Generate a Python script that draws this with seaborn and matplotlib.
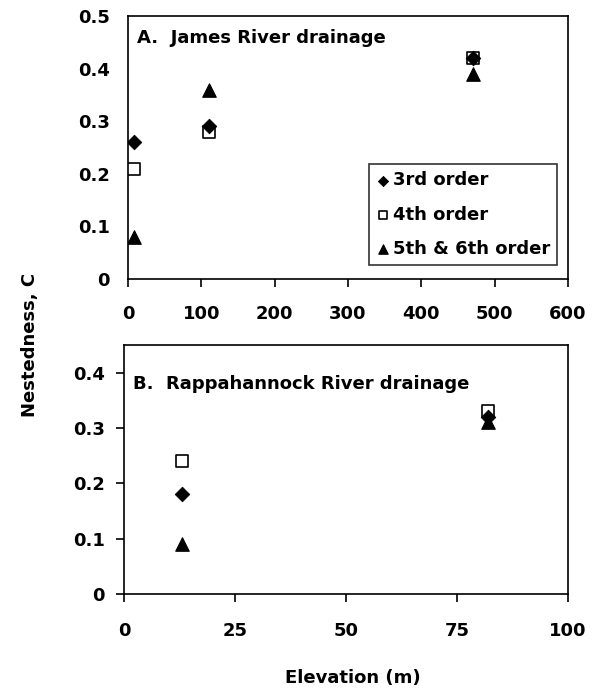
import pandas as pd
import matplotlib.pyplot as plt
import seaborn as sns

# Dados
ordens = ['3rd order', '4th order', '5th & 6th order']

james_elev = [8, 110, 470]
james_3rd = [0.26, 0.29, 0.42]
james_4th = [0.21, 0.28, 0.42]
james_5th = [0.08, 0.36, 0.39]

rapp_elev = [13, 82]
rapp_3rd = [0.18, 0.32]
rapp_4th = [0.24, 0.33]
rapp_5th = [0.09, 0.31]


def monta_df(elev, s3, s4, s5):
    linhas = []
    for nome, vals in zip(ordens, [s3, s4, s5]):
        for e, v in zip(elev, vals):
            linhas.append({'elev': e, 'C': v, 'ordem': nome})
    return pd.DataFrame(linhas)


james = monta_df(james_elev, james_3rd, james_4th, james_5th)
rapp = monta_df(rapp_elev, rapp_3rd, rapp_4th, rapp_5th)

sns.set_style('white', {'xtick.bottom': True, 'ytick.left': True})
plt.rcParams['font.family'] = ['DejaVu Sans']
plt.rcParams['font.weight'] = 'bold'
plt.rcParams['text.color'] = 'black'
plt.rcParams['xtick.color'] = 'black'
plt.rcParams['ytick.color'] = 'black'
plt.rcParams['xtick.major.size'] = 6
plt.rcParams['ytick.major.size'] = 6

marcadores = {'3rd order': 'D', '4th order': 's', '5th & 6th order': '^'}
tamanhos = {'3rd order': 55, '4th order': 70, '5th & 6th order': 95}

fig = plt.figure(figsize=(5.95, 6.92), dpi=100)
ax1 = fig.add_axes([128 / 595, 1 - 279 / 692, 440 / 595, 263 / 692])
ax2 = fig.add_axes([124 / 595, 1 - 594 / 692, 444 / 595, 249 / 692])


def desenha(ax, df):
    for nome in ordens:
        sub = df[df['ordem'] == nome]
        if nome == '4th order':
            sns.scatterplot(data=sub, x='elev', y='C', marker='s', s=tamanhos[nome],
                            facecolor='white', edgecolor='black', linewidth=1.2,
                            label=nome, ax=ax, zorder=3)
        else:
            sns.scatterplot(data=sub, x='elev', y='C', marker=marcadores[nome],
                            s=tamanhos[nome], color='black', edgecolor='black',
                            label=nome, ax=ax, zorder=3 if nome != '3rd order' else 4)
    for sp in ax.spines.values():
        sp.set_color('black')
        sp.set_linewidth(1.2)
    ax.set_xlabel('')
    ax.set_ylabel('')


desenha(ax1, james)
ax1.set_xlim(0, 600)
ax1.set_ylim(0, 0.5)
ax1.set_xticks(range(0, 601, 100))
ax1.set_yticks([0, 0.1, 0.2, 0.3, 0.4, 0.5])
ax1.set_yticklabels(['0', '0.1', '0.2', '0.3', '0.4', '0.5'], fontweight='bold')
ax1.set_xticklabels([str(v) for v in range(0, 601, 100)], fontweight='bold')
ax1.tick_params(axis='x', direction='out', length=6, width=1.2, labelsize=13, pad=13,
                bottom=True, color='black')
ax1.tick_params(axis='y', length=0, labelsize=13, pad=13, left=True)
ax1.text(0.02, 0.95, 'A.  James River drainage', transform=ax1.transAxes,
         fontsize=13, fontweight='bold', va='top')
leg = ax1.legend(loc='lower right', bbox_to_anchor=(0.975, 0.053), frameon=True,
                 fancybox=False, edgecolor='black', prop={'size': 13, 'weight': 'bold'},
                 handletextpad=0.2, borderpad=0.4, labelspacing=0.9, handlelength=0.7,
                 markerscale=0.7, borderaxespad=0)
leg.get_frame().set_linewidth(1.2)

desenha(ax2, rapp)
ax2.get_legend().remove()
ax2.set_xlim(0, 100)
ax2.set_ylim(0, 0.45)
ax2.set_xticks([0, 25, 50, 75, 100])
ax2.set_xticklabels(['0', '25', '50', '75', '100'], fontweight='bold')
ax2.set_yticks([0, 0.1, 0.2, 0.3, 0.4])
ax2.set_yticklabels(['0', '0.1', '0.2', '0.3', '0.4'], fontweight='bold')
ax2.tick_params(axis='x', direction='out', length=6, width=1.2, labelsize=13, pad=14,
                bottom=True, color='black')
ax2.tick_params(axis='y', direction='out', length=6, width=1.2, labelsize=13, pad=8,
                left=True, color='black')
ax2.text(0.02, 0.88, 'B.  Rappahannock River drainage', transform=ax2.transAxes,
         fontsize=13, fontweight='bold', va='top')

fig.text(30 / 595, 1 - 345 / 692, 'Nestedness, C', rotation=90, ha='center', va='center',
         fontsize=13, fontweight='bold')
fig.text(353 / 595, 1 - 678 / 692, 'Elevation (m)', ha='center', va='center',
         fontsize=13, fontweight='bold')

fig.savefig('out.png', dpi=100)
